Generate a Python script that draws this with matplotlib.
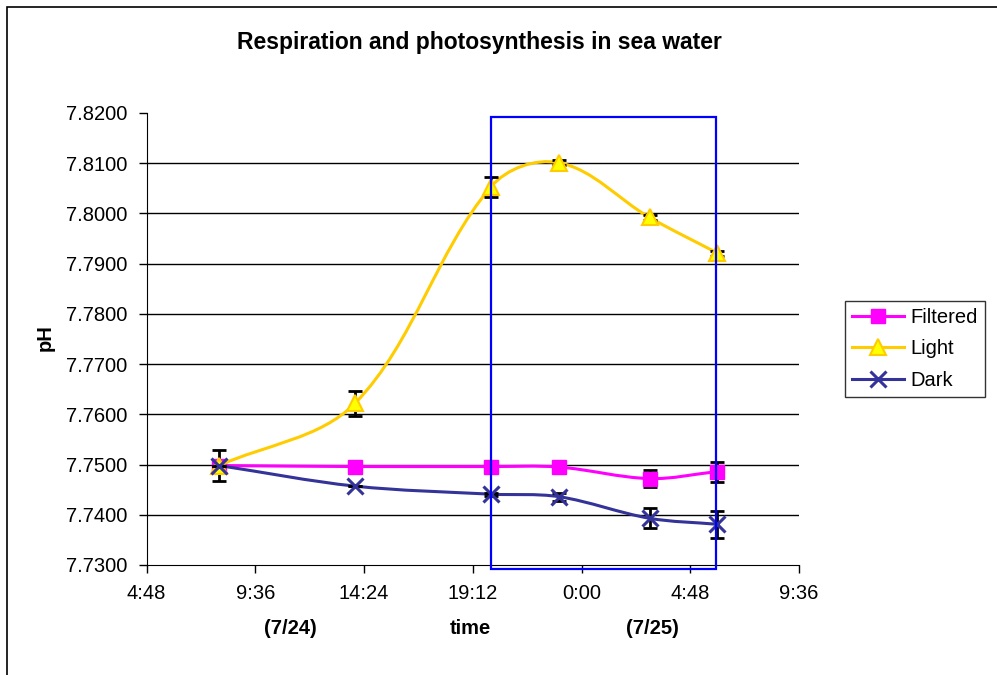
"""Respiration and photosynthesis in sea water: pH over time, Excel-style chart."""

import matplotlib

matplotlib.use("Agg")
import matplotlib.pyplot as plt
from matplotlib.patches import PathPatch, Rectangle
from matplotlib.path import Path

plt.rcParams["font.family"] = ["Liberation Sans", "DejaVu Sans"]

# hours counted from midnight of 7/24
hours = [8, 14, 20, 23, 27, 30]
filtered = [7.7498, 7.7496, 7.7496, 7.7495, 7.7472, 7.7486]
filtered_err = [0.0031, 0.0, 0.0, 0.0, 0.0017, 0.0020]
light = [7.7498, 7.7622, 7.8053, 7.8101, 7.7992, 7.7921]
light_err = [0.0, 0.0025, 0.0020, 0.0005, 0.0005, 0.0005]
dark = [7.7498, 7.7457, 7.7441, 7.7436, 7.7393, 7.7381]
dark_err = [0.0, 0.0, 0.0003, 0.0008, 0.0020, 0.0027]

x_ticks = [4.8, 9.6, 14.4, 19.2, 24.0, 28.8, 33.6]
x_tick_labels = ["4:48", "9:36", "14:24", "19:12", "0:00", "4:48", "9:36"]
y_ticks = [7.73, 7.74, 7.75, 7.76, 7.77, 7.78, 7.79, 7.80, 7.81, 7.82]


def smooth_path(xs, ys, sx, sy):
    """Excel-like smoothed line: Bezier segments whose handles scale with segment length on screen."""
    pts = [(x * sx, y * sy) for x, y in zip(xs, ys)]
    n = len(pts)

    def dist(a, b):
        return ((a[0] - b[0]) ** 2 + (a[1] - b[1]) ** 2) ** 0.5

    verts = [pts[0]]
    codes = [Path.MOVETO]
    for i in range(n - 1):
        p0 = pts[max(i - 1, 0)]
        p1 = pts[i]
        p2 = pts[i + 1]
        p3 = pts[min(i + 2, n - 1)]
        seg = dist(p1, p2)
        k1 = seg / dist(p0, p2) / 3
        k2 = seg / dist(p1, p3) / 3
        c1 = (p1[0] + (p2[0] - p0[0]) * k1, p1[1] + (p2[1] - p0[1]) * k1)
        c2 = (p2[0] - (p3[0] - p1[0]) * k2, p2[1] - (p3[1] - p1[1]) * k2)
        verts += [c1, c2, p2]
        codes += [Path.CURVE4] * 3
    return Path([(x / sx, y / sy) for x, y in verts], codes)


fig = plt.figure(figsize=(9.97, 6.75), dpi=100)
fig.patches.append(Rectangle((7 / 997, -0.1), 1.2, 1 - 7 / 675 + 0.1, transform=fig.transFigure,
                             fill=False, edgecolor="black", linewidth=1.2))
ax = fig.add_axes([0.1471, 0.163, 0.6543, 0.6696])
ax.set_xlim(4.8, 33.6)
ax.set_ylim(7.73, 7.82)

# pixels per data unit, so the smoothing is done in screen proportions
px_x = 0.6543 * 997 / (33.6 - 4.8)
px_y = 0.6696 * 675 / (7.82 - 7.73)

series = [
    ("Filtered", filtered, filtered_err, "#FF00FF", dict(marker="s", markersize=10, markerfacecolor="#FF00FF",
                                                          markeredgecolor="#FF00FF")),
    ("Light", light, light_err, "#FFCC00", dict(marker="^", markersize=11, markerfacecolor="#FFFF00",
                                                 markeredgecolor="#FFCC00", markeredgewidth=1.5)),
    ("Dark", dark, dark_err, "#333399", dict(marker="x", markersize=11, markeredgewidth=2.2,
                                              markeredgecolor="#333399")),
]

for i, (name, values, errs, color, mstyle) in enumerate(series):
    ax.add_patch(PathPatch(smooth_path(hours, values, px_x, px_y), fill=False, edgecolor=color,
                           linewidth=2.2, zorder=3 + i))
    ax.errorbar(hours, values, yerr=errs, fmt="none", ecolor="black", elinewidth=2, capsize=5,
                capthick=2, zorder=3 + i)
    ax.plot(hours, values, linestyle="none", zorder=3.5 + i, **mstyle)
    ax.plot([], [], color=color, linewidth=2.2, label=name, **mstyle)

ax.set_xticks(x_ticks)
ax.set_xticklabels(x_tick_labels)
ax.set_yticks(y_ticks)
ax.set_yticklabels([f"{v:.4f}" for v in y_ticks])
ax.tick_params(direction="out", length=6, width=1, labelsize=14.5, pad=8)
for v in y_ticks[1:-1]:
    ax.axhline(v, color="black", linewidth=1, zorder=1)
for side in ["top", "right"]:
    ax.spines[side].set_visible(False)

ax.add_patch(Rectangle((20, 7.7292), 9.95, 7.8192 - 7.7292, fill=False, edgecolor="#0000FF",
                       linewidth=1.6, clip_on=False, zorder=8))

fig.text(479 / 997, 1 - 43 / 675, "Respiration and photosynthesis in sea water", ha="center", va="center",
         fontsize=16.5, fontweight="bold")
fig.text(45 / 997, 1 - 338 / 675, "pH", rotation=90, ha="center", va="center", fontsize=14.5,
         fontweight="bold")
fig.text(470 / 997, 1 - 628 / 675, "time", ha="center", va="center", fontsize=14.5, fontweight="bold")
fig.text(290 / 997, 1 - 628 / 675, "(7/24)", ha="center", va="center", fontsize=14.5, fontweight="bold")
fig.text(652 / 997, 1 - 628 / 675, "(7/25)", ha="center", va="center", fontsize=14.5, fontweight="bold")

leg = fig.legend(loc="center", bbox_to_anchor=(915 / 997, 1 - 349 / 675), frameon=True, fancybox=False,
                 edgecolor="black", fontsize=14.5, handlelength=2.6, borderpad=0.35, labelspacing=0.62,
                 handletextpad=0.3, borderaxespad=0)
leg.get_frame().set_linewidth(1)

fig.savefig("out.png", dpi=100)
